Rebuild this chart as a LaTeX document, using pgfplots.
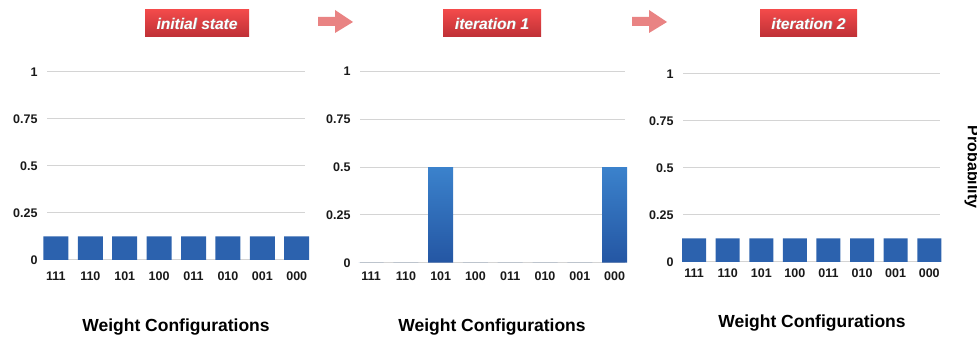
\documentclass[border=0pt]{standalone}
\usepackage{pgfplots}
\pgfplotsset{compat=1.18}
\usepackage{fontspec}
\setmainfont{Liberation Sans}
\definecolor{barblue}{HTML}{2C62AE}
\definecolor{bartop}{HTML}{3B82CC}
\definecolor{barbot}{HTML}{2456A3}
\definecolor{boxtop}{HTML}{F24A4A}
\definecolor{boxbot}{HTML}{BE3036}
\definecolor{arrowpink}{HTML}{E98383}
\definecolor{gridgray}{HTML}{D4D4D4}
\pgfplotsset{panel/.style={
  scale only axis, anchor=south west, clip=false,
  ymin=0, ymax=1,
  ytick={0,0.25,0.5,0.75,1}, yticklabels={0,0.25,0.5,0.75,1},
  xtick={0,...,7}, xticklabels={111,110,101,100,011,010,001,000},
  ymajorgrids, grid style={draw=gridgray, line width=1pt},
  axis line style={draw=none}, major tick length=0pt,
  ticklabel style={font=\bfseries\fontsize{12.5}{14}\selectfont, text=black!90},
  yticklabel style={xshift=-6pt},
  ybar, bar width=25pt,
}}
\pgfplotstableread{
x p
0 0.125
1 0.125
2 0.125
3 0.125
4 0.125
5 0.125
6 0.125
7 0.125
}\initialstate
\pgfplotstableread{
x p
0 0
1 0
2 0.5
3 0
4 0
5 0
6 0
7 0.5
}\iterone
\pgfplotstableread{
x p
0 0.125
1 0.125
2 0.125
3 0.125
4 0.125
5 0.125
6 0.125
7 0.125
}\itertwo
\begin{document}
\begin{tikzpicture}[x=1pt,y=1pt]
\path[use as bounding box] (0,0) rectangle (977,337);
% panel 1
\begin{axis}[panel, at={(47pt,77pt)}, width=258pt, height=188pt, xmin=-0.26, xmax=7.24,
  xticklabel style={yshift=-8pt}]
\addplot[draw=none, fill=barblue] table[x=x,y=p] {\initialstate};
\end{axis}
% panel 2
\begin{axis}[panel, at={(360pt,74.3pt)}, width=265pt, height=191pt, xmin=-0.32, xmax=7.3,
  xticklabel style={yshift=-5.5pt}]
\addplot[draw=none, top color=bartop, bottom color=barbot] table[x=x,y=p] {\iterone};
\end{axis}
% panel 3
\begin{axis}[panel, at={(683pt,75pt)}, width=257pt, height=188pt, xmin=-0.33, xmax=7.32,
  bar width=24pt, xticklabel style={yshift=-3pt}]
\addplot[draw=none, fill=barblue] table[x=x,y=p] {\itertwo};
\end{axis}
% x labels
\node[font=\bfseries\fontsize{17.5}{20}\selectfont] at (176,10) {Weight Configurations};
\node[font=\bfseries\fontsize{17.5}{20}\selectfont] at (492,10) {Weight Configurations};
\node[font=\bfseries\fontsize{17.5}{20}\selectfont] at (812,14) {Weight Configurations};
% y label (cut at right edge)
\node[font=\bfseries\fontsize{16}{18}\selectfont, rotate=-90] at (972,170) {Probability};
% title boxes
\foreach \xa/\xb/\t in {145/249/initial state, 443/541/iteration 1, 760/857/iteration 2}{
  \shade[top color=boxtop, bottom color=boxbot] (\xa,300) rectangle (\xb,327);
  \node[font=\bfseries\itshape\fontsize{15.5}{18}\selectfont, text=black!40] at ({(\xa+\xb)/2+0.6},312.9) {\t};
  \node[font=\bfseries\itshape\fontsize{15.5}{18}\selectfont, text=white] at ({(\xa+\xb)/2},313.5) {\t};
}
% arrows
\foreach \xo in {318, 632}{
  \fill[arrowpink] (\xo,320) -- (\xo+17,320) -- (\xo+17,327) -- (\xo+35,315) -- (\xo+17,304) -- (\xo+17,311) -- (\xo,311) -- cycle;
}
\end{tikzpicture}
\end{document}
